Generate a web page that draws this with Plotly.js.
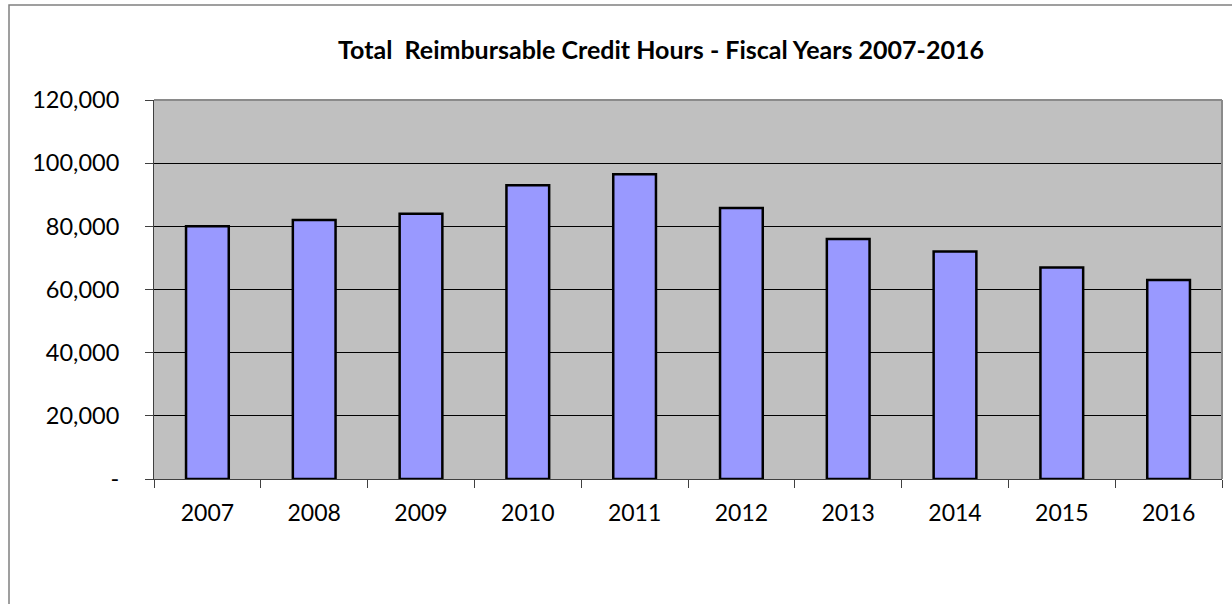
<!DOCTYPE html>
<html>
<head>
<meta charset="utf-8">
<script src="https://cdn.plot.ly/plotly-3.0.1.min.js"></script>
<style>
  html, body { margin: 0; padding: 0; background: #ffffff; }
  #chart { width: 1232px; height: 604px; }
</style>
</head>
<body>
<div id="chart"></div>
<script>
const years = ["2007", "2008", "2009", "2010", "2011", "2012", "2013", "2014", "2015", "2016"];
const creditHours = [80000, 82000, 84000, 93000, 96500, 85800, 76000, 72000, 67000, 63000];
const yTickVals = [0, 20000, 40000, 60000, 80000, 100000, 120000];
const yTickText = ["-", "20,000", "40,000", "60,000", "80,000", "100,000", "120,000"];
const chartTitle = "Total  Reimbursable Credit Hours - Fiscal Years 2007-2016";

const W = 1232, H = 604;
const mL = 154, mR = 10, mT = 100, mB = 125;
const pw = W - mL - mR, ph = H - mT - mB;
const px = v => (v - mL) / pw;
const py = v => (H - mB - v) / ph;

const trace = {
  type: "bar",
  x: years,
  y: creditHours,
  marker: { color: "#9999FF", line: { color: "#000000", width: 2.5 } },
  hoverinfo: "x+y"
};

const layout = {
  width: W, height: H,
  margin: { l: mL, r: mR, t: mT, b: mB, pad: 0 },
  paper_bgcolor: "#ffffff",
  plot_bgcolor: "#C0C0C0",
  bargap: 0.6,
  showlegend: false,
  font: { family: "Lato, 'Open Sans', sans-serif", color: "#000000" },
  title: {
    text: "<b>" + chartTitle + "</b>",
    font: { family: "Lato, sans-serif", size: 25, color: "#000000" },
    xref: "container", x: 661 / W, xanchor: "center",
    yref: "container", y: 1 - 50 / H, yanchor: "middle"
  },
  xaxis: {
    type: "category",
    showgrid: false,
    showline: true, linecolor: "#404040", linewidth: 1,
    ticks: "outside", tickson: "boundaries", ticklen: 8, tickcolor: "#404040", tickwidth: 1,
    tickfont: { size: 23, family: "Lato, sans-serif" },
    ticklabelstandoff: 13,
    mirror: false,
    fixedrange: true
  },
  yaxis: {
    range: [0, 120000],
    tickvals: yTickVals,
    ticktext: yTickText,
    showgrid: true, gridcolor: "#000000", gridwidth: 1,
    showline: true, linecolor: "#404040", linewidth: 1,
    ticks: "outside", ticklen: 8, tickcolor: "#404040", tickwidth: 1,
    tickfont: { size: 23.5, family: "Lato, sans-serif" },
    ticklabelstandoff: 21,
    zeroline: false,
    fixedrange: true
  },
  shapes: [
    { type: "rect", xref: "paper", yref: "paper",
      x0: px(9), x1: px(1250), y0: py(620), y1: py(5),
      line: { color: "#808080", width: 1.5 }, fillcolor: "rgba(0,0,0,0)", layer: "below" },
    { type: "line", xref: "paper", yref: "paper",
      x0: 0, x1: 1, y0: 1, y1: 1, line: { color: "#8a8a8a", width: 2 } },
    { type: "line", xref: "paper", yref: "paper",
      x0: 1, x1: 1, y0: 0, y1: 1, line: { color: "#8a8a8a", width: 2 } }
  ]
};

Plotly.newPlot("chart", [trace], layout, { displayModeBar: false, staticPlot: true });
</script>
</body>
</html>
